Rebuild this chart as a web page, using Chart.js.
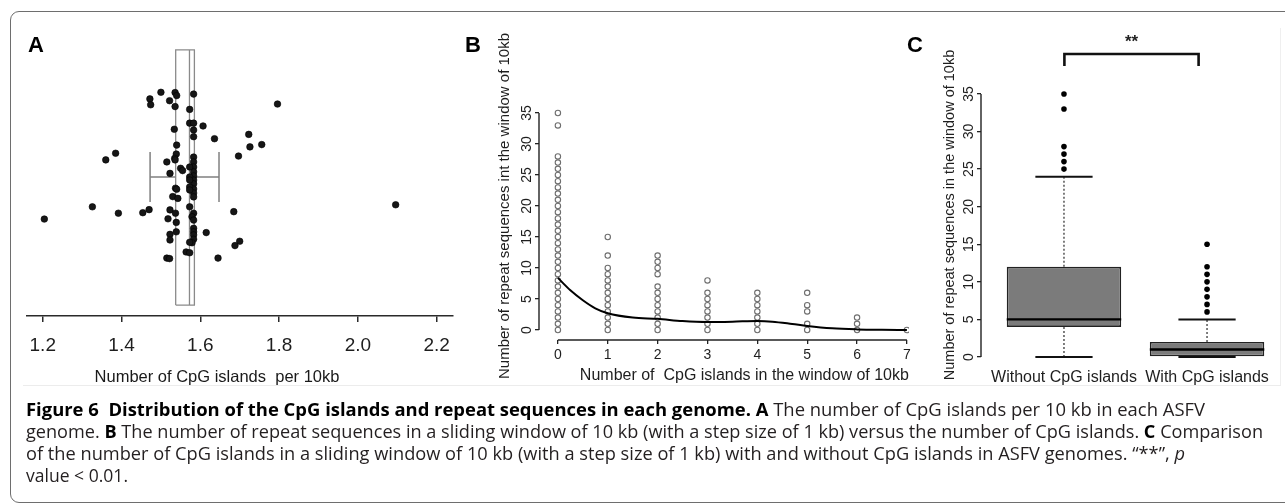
<!DOCTYPE html>
<html><head><meta charset="utf-8">
<script src="https://cdn.jsdelivr.net/npm/chart.js@4.4.1/dist/chart.umd.min.js"></script>
<style>
html,body{margin:0;padding:0;background:#fff;}
body{width:1285px;height:504px;overflow:hidden;position:relative;font-family:"Liberation Sans",Arial,sans-serif;}
#frame{position:absolute;left:10px;top:11px;width:1300px;height:492px;border:1px solid #6e6e6e;border-radius:9px;box-sizing:border-box;}
#sep{position:absolute;left:23px;top:385px;width:1258px;height:1px;background:#ececec;}
#vsep{position:absolute;left:1280px;top:28px;width:1px;height:357px;background:#efefef;}
canvas{position:absolute;top:0;}
.plab{position:absolute;font:bold 22px/22px "Liberation Sans",Arial,sans-serif;color:#000;}
.atitle{position:absolute;font:16.5px/20px "Liberation Sans",Arial,sans-serif;color:#1a1a1a;white-space:pre;transform:translateX(-50%);}
#cap{position:absolute;left:26px;top:398px;font-family:"Open Sans","Noto Sans",sans-serif;font-size:18px;color:#231f20;}
#cap .line{height:22px;line-height:22px;white-space:nowrap;transform-origin:0 0;}
#cap b{font-weight:700;color:#000;}
</style></head>
<body>
<div id="frame"></div>
<div id="sep"></div><div id="vsep"></div>
<canvas id="cA" width="462" height="400" style="left:0px"></canvas>
<canvas id="cB" width="452" height="400" style="left:462px"></canvas>
<canvas id="cC" width="371" height="400" style="left:914px"></canvas>
<div class="plab" style="left:28px;top:34px">A</div>
<div class="plab" style="left:465px;top:34px">B</div>
<div class="plab" style="left:907px;top:34px">C</div>
<div class="atitle" style="left:217px;top:366px">Number of CpG islands  per 10kb</div>
<div id="cap">
<div class="line"><span class="t"><b>Figure 6&nbsp; Distribution of the CpG islands and repeat sequences in each genome.</b> <b>A</b> The number of CpG islands per 10 kb in each ASFV</span></div>
<div class="line"><span class="t">genome. <b>B</b> The number of repeat sequences in a sliding window of 10 kb (with a step size of 1 kb) versus the number of CpG islands. <b>C</b> Comparison</span></div>
<div class="line"><span class="t">of the number of CpG islands in a sliding window of 10 kb (with a step size of 1 kb) with and without CpG islands in ASFV genomes. “**”, <i>p</i></span></div>
<div class="line"><span class="t">value &lt; 0.01.</span></div>
</div>
<script>
// ---------- Panel A data ----------
const aCpgPer10kb = [1.500,1.536,1.540,1.583,1.472,1.474,1.522,1.536,1.796,1.573,
  1.573,1.583,1.583,1.583,1.607,1.534,1.636,1.723,1.726,1.756,
  1.540,1.385,1.360,1.539,1.535,1.536,1.583,1.583,1.583,1.583,
  1.583,1.583,1.583,1.583,1.583,1.583,1.573,1.573,1.573,1.573,
  1.573,1.697,1.515,1.523,1.550,1.555,1.537,1.540,1.530,1.543,
  1.573,1.392,1.454,1.470,1.523,1.537,1.518,1.539,1.583,1.579,
  1.583,1.685,1.539,1.523,1.523,1.583,1.583,1.583,1.583,1.579,
  1.615,1.573,1.700,1.688,1.564,1.573,1.515,1.522,1.645,1.204,
  1.326,2.096];
const aJitter = [0.834,0.833,0.821,0.827,0.808,0.785,0.801,0.778,0.788,0.767,
  0.713,0.713,0.686,0.660,0.702,0.689,0.652,0.669,0.620,0.629,
  0.627,0.595,0.569,0.592,0.575,0.569,0.580,0.561,0.541,0.522,
  0.506,0.490,0.475,0.455,0.439,0.424,0.541,0.502,0.490,0.463,
  0.451,0.584,0.561,0.516,0.536,0.527,0.458,0.454,0.425,0.418,
  0.385,0.360,0.362,0.374,0.373,0.360,0.338,0.324,0.360,0.346,
  0.333,0.366,0.287,0.277,0.255,0.301,0.287,0.275,0.258,0.244,
  0.284,0.246,0.250,0.233,0.208,0.205,0.184,0.182,0.184,0.337,
  0.385,0.393];
const aTicks = [1.2,1.4,1.6,1.8,2.0,2.2];
const aWhiskerLow = 1.4725, aQ1 = 1.5375, aMedian = 1.5725, aQ3 = 1.585, aWhiskerHigh = 1.6475;
const aBoxBottom = 0, aBoxTop = 1, aWhiskerLevel = 0.502, aStapleLow = 0.404, aStapleHigh = 0.6;

// ---------- Panel B data ----------
const bCpgCounts = [0,1,2,3,4,5,6,7];
const bRepeats = [
  [0,1,2,3,4,5,6,7,8,9,10,11,12,13,14,15,16,17,18,19,20,21,22,23,24,25,26,27,28,33,35],
  [0,1,2,3,4,5,6,7,8,9,10,12,15],
  [0,1,2,3,4,5,6,7,9,10,11,12],
  [0,1,2,3,4,5,6,8],
  [0,1,2,3,4,5,6],
  [0,1,3,4,6],
  [0,1,2],
  [0]
];
const bSmoothX = [0,0.25,0.5,0.75,1,1.5,2,2.5,3,3.5,4,4.3,4.7,5,5.5,6,6.5,7];
const bSmoothY = [8.4,6.4,4.8,3.5,2.7,2.0,1.8,1.45,1.3,1.35,1.45,1.35,0.97,0.65,0.27,0.1,0.03,0];
const bTicksX = [0,1,2,3,4,5,6,7];
const bTicksY = [0,5,10,15,20,25,30,35];

// ---------- Panel C data ----------
const cCategories = ['Without CpG islands','With CpG islands'];
const cPositions = [1,2];
const cWhiskerLow = [0,0];
const cQ1 = [4,0];
const cMedian = [5,1];
const cQ3 = [12,2];
const cWhiskerHigh = [24,5];
const cOutliers = [[25,26,27,28,33,35],[6,7,8,9,10,11,12,15]];
const cTicksY = [0,5,10,15,20,25,30,35];
const cBracketX = [1.003,1.003,1.941,1.941];
const cBracketY = [38.73,40.32,40.32,38.73];
const cSignif = '**';

const FONT = 'Liberation Sans';
const INK = '#1e1e1e';

// R-style axis lines spanning first..last tick
const rAxisLines = {
  id:'rAxisLines',
  afterDraw(chart, args, opts){
    const ctx = chart.ctx;
    ctx.save(); ctx.strokeStyle = '#222'; ctx.lineWidth = 1.4;
    (opts.axes||[]).forEach(id=>{
      const s = chart.scales[id]; const t = s.ticks;
      const a = s.getPixelForValue(t[0].value), b = s.getPixelForValue(t[t.length-1].value);
      ctx.beginPath();
      if (s.isHorizontal()) { ctx.moveTo(a, s.top); ctx.lineTo(b, s.top); }
      else { ctx.moveTo(s.right, a); ctx.lineTo(s.right, b); }
      ctx.stroke();
    });
    ctx.restore();
  }
};
const signifText = {
  id:'signifText',
  afterDatasetsDraw(chart){
    const x = chart.scales.x, y = chart.scales.y, ctx = chart.ctx;
    ctx.save();
    ctx.font = 'bold 17px "'+FONT+'"'; ctx.fillStyle = '#222';
    ctx.textAlign = 'center'; ctx.textBaseline = 'middle';
    ctx.fillText(cSignif, x.getPixelForValue((cBracketX[0]+cBracketX[3])/2), y.getPixelForValue(cBracketY[1]) - 12);
    ctx.restore();
  }
};
const gap = (x)=>({x:x, y:null});
const common = {responsive:false, animation:false, devicePixelRatio:1,
  plugins:{legend:{display:false}, tooltip:{enabled:false}}};

// ---------- Chart A ----------
new Chart(document.getElementById('cA'), {
  type:'scatter',
  data:{datasets:[
    {type:'scatter', data:aCpgPer10kb.map((v,i)=>({x:v,y:aJitter[i]})), pointRadius:3.3,
      backgroundColor:'#161616', borderColor:'#000', borderWidth:0.6, order:0},
    {type:'line', data:[{x:aQ1,y:aBoxBottom},{x:aQ3,y:aBoxBottom},{x:aQ3,y:aBoxTop},{x:aQ1,y:aBoxTop},{x:aQ1,y:aBoxBottom}],
      borderColor:'#8a8a8a', borderWidth:1.3, pointRadius:0, tension:0, order:1},
    {type:'line', data:[{x:aMedian,y:aBoxBottom},{x:aMedian,y:aBoxTop}],
      borderColor:'#8a8a8a', borderWidth:1.3, pointRadius:0, order:1},
    {type:'line', data:[{x:aWhiskerLow,y:aWhiskerLevel},{x:aQ1,y:aWhiskerLevel},gap(aMedian),{x:aQ3,y:aWhiskerLevel},{x:aWhiskerHigh,y:aWhiskerLevel}],
      borderColor:'#808080', borderWidth:1.5, pointRadius:0, order:1},
    {type:'line', data:[{x:aWhiskerLow,y:aStapleLow},{x:aWhiskerLow,y:aStapleHigh},gap(aMedian),{x:aWhiskerHigh,y:aStapleLow},{x:aWhiskerHigh,y:aStapleHigh}],
      borderColor:'#808080', borderWidth:1.5, pointRadius:0, order:1}
  ]},
  options:Object.assign({}, common, {
    layout:{padding:{left:27,right:2,top:40,bottom:0}},
    scales:{
      x:{type:'linear', min:1.16, max:2.24,
        afterBuildTicks:s=>{ s.ticks = aTicks.map(v=>({value:v})); },
        afterFit:s=>{ s.height = 84; },
        border:{display:true, color:'#2a2a2a', width:1.6},
        grid:{display:true, drawOnChartArea:false, drawTicks:true, tickLength:6, color:'#2a2a2a', lineWidth:1.5},
        ticks:{autoSkip:false, maxRotation:0, font:{family:FONT,size:19}, color:INK, padding:12, callback:v=>v.toFixed(1)}},
      y:{type:'linear', display:false, min:-0.043, max:1.039}
    }
  })
});

// ---------- Chart B ----------
const bPoints = [];
bCpgCounts.forEach((c,i)=>bRepeats[i].forEach(r=>bPoints.push({x:c,y:r})));
new Chart(document.getElementById('cB'), {
  type:'scatter',
  data:{datasets:[
    {type:'line', data:bSmoothX.map((v,i)=>({x:v,y:bSmoothY[i]})), borderColor:'#000', borderWidth:2,
      pointRadius:0, cubicInterpolationMode:'monotone', order:0},
    {type:'scatter', data:bPoints, pointRadius:2.7, borderWidth:1.1, borderColor:'#6e6e6e',
      backgroundColor:'rgba(0,0,0,0)', order:1}
  ]},
  plugins:[rAxisLines],
  options:Object.assign({}, common, {
    plugins:{legend:{display:false}, tooltip:{enabled:false}, rAxisLines:{axes:['x','y']}},
    layout:{padding:{left:0,right:3,top:72,bottom:0}},
    scales:{
      x:{type:'linear', min:-0.379, max:7.04,
        afterBuildTicks:s=>{ s.ticks = bTicksX.map(v=>({value:v})); },
        afterFit:s=>{ s.height = 60; },
        border:{display:false},
        grid:{display:true, drawOnChartArea:false, drawTicks:true, tickLength:4, color:'#222', lineWidth:1.3},
        ticks:{autoSkip:false, maxRotation:0, font:{family:FONT,size:14}, color:INK, padding:3},
        title:{display:true, text:'Number of  CpG islands in the window of 10kb', align:'end',
          font:{family:FONT,size:16}, color:INK, padding:{top:0,bottom:14.4}}},
      y:{type:'linear', min:-1.613, max:41.61,
        afterBuildTicks:s=>{ s.ticks = bTicksY.map(v=>({value:v})); },
        afterFit:s=>{ s.width = 77; },
        border:{display:false},
        grid:{display:true, drawOnChartArea:false, drawTicks:true, tickLength:4, color:'#222', lineWidth:1.3},
        ticks:{autoSkip:false, minRotation:90, maxRotation:90, crossAlign:'center', font:{family:FONT,size:14}, color:INK, padding:0},
        title:{display:true, text:'Number of repeat sequences int the window of 10kb',
          font:{family:FONT,size:15}, color:INK, padding:{top:34,bottom:0}}}
    }
  })
});

// ---------- Chart C ----------
const BOX_HALF = 0.4, CAP_HALF = 0.2;
const cWhiskers = [], cCaps = [], cMedians = [], cOutPts = [];
cPositions.forEach((p,i)=>{
  cWhiskers.push({x:p,y:cQ3[i]},{x:p,y:cWhiskerHigh[i]},gap(p),{x:p,y:cQ1[i]},{x:p,y:cWhiskerLow[i]},gap(p));
  cCaps.push({x:p-CAP_HALF,y:cWhiskerHigh[i]},{x:p+CAP_HALF,y:cWhiskerHigh[i]},gap(p),
             {x:p-CAP_HALF,y:cWhiskerLow[i]},{x:p+CAP_HALF,y:cWhiskerLow[i]},gap(p));
  cMedians.push({x:p-BOX_HALF,y:cMedian[i]},{x:p+BOX_HALF,y:cMedian[i]},gap(p));
  cOutliers[i].forEach(v=>cOutPts.push({x:p,y:v}));
});
new Chart(document.getElementById('cC'), {
  type:'bar',
  data:{datasets:[
    {type:'line', data:cBracketX.map((v,i)=>({x:v,y:cBracketY[i]})), borderColor:'#111', borderWidth:2.6,
      pointRadius:0, clip:false, order:0},
    {type:'scatter', data:cOutPts, pointRadius:2.8, backgroundColor:'#000', borderColor:'#000', borderWidth:0, clip:false, order:0},
    {type:'line', data:cMedians, borderColor:'#000', borderWidth:2.4, pointRadius:0, order:1},
    {type:'bar', data:cPositions.map((p,i)=>({x:p,y:[cQ1[i],cQ3[i]]})), backgroundColor:'#7b7b7b',
      borderColor:'#222', borderWidth:1.6, borderSkipped:false, barPercentage:0.8, categoryPercentage:1, order:2},
    {type:'line', data:cCaps, borderColor:'#111', borderWidth:2, pointRadius:0, order:3},
    {type:'line', data:cWhiskers, borderColor:'#555', borderWidth:1.5, borderDash:[2,2], pointRadius:0, order:3}
  ]},
  plugins:[rAxisLines, signifText],
  options:Object.assign({}, common, {
    plugins:{legend:{display:false}, tooltip:{enabled:false}, rAxisLines:{axes:['y']}},
    layout:{padding:{left:0,right:2,top:70,bottom:0}},
    scales:{
      x:{type:'linear', offset:false, min:0.42, max:2.517,
        afterBuildTicks:s=>{ s.ticks = cPositions.map(v=>({value:v})); },
        afterFit:s=>{ s.height = 40; },
        border:{display:false},
        grid:{display:false, offset:false},
        ticks:{autoSkip:false, maxRotation:0, font:{family:FONT,size:16}, color:INK, padding:0,
          callback:v=>cCategories[cPositions.indexOf(v)]}},
      y:{type:'linear', min:-0.4, max:38.19, beginAtZero:false,
        afterBuildTicks:s=>{ s.ticks = cTicksY.map(v=>({value:v})); },
        afterFit:s=>{ s.width = 67; },
        border:{display:false},
        grid:{display:true, drawOnChartArea:false, drawTicks:true, tickLength:4, color:'#222', lineWidth:1.3},
        ticks:{autoSkip:false, minRotation:90, maxRotation:90, crossAlign:'center', font:{family:FONT,size:14}, color:INK, padding:0},
        title:{display:true, text:'Number of repeat sequences in the window of 10kb',
          font:{family:FONT,size:14.5}, color:INK, padding:{top:27.3,bottom:0}}}
    }
  })
});

// ---------- caption line fitting ----------
const capTargets = [1179, 1237, 1159, 102];
document.querySelectorAll('#cap .line').forEach((ln,i)=>{
  const w = ln.querySelector('.t').getBoundingClientRect().width;
  ln.style.transform = 'scaleX(' + (capTargets[i]/w) + ')';
});
</script>
</body></html>
